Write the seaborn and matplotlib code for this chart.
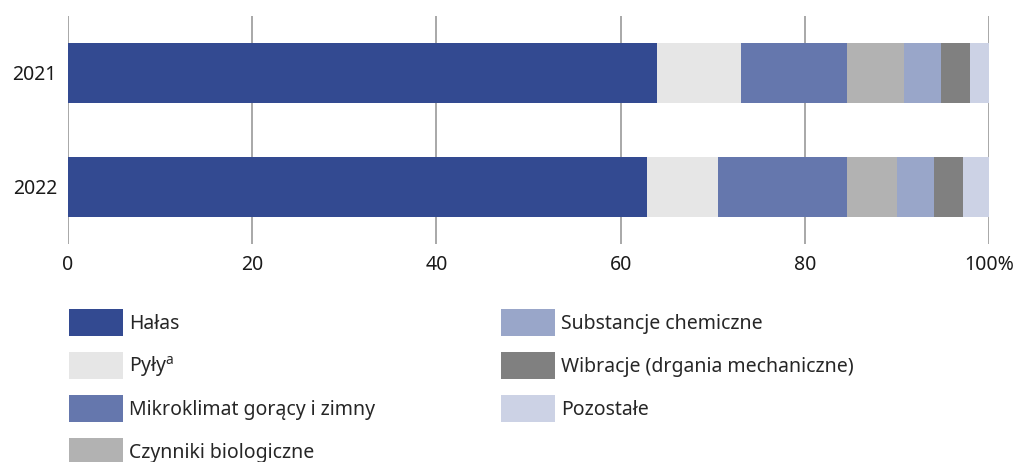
import numpy as np
import pandas as pd
import matplotlib.pyplot as plt
import seaborn as sns
from matplotlib.patches import Patch

# Data (percent shares per year)
years = ['2021', '2022']
factors = ['Hałas', 'Pyły$^{\\mathrm{a}}$', 'Mikroklimat gorący i zimny',
           'Czynniki biologiczne', 'Substancje chemiczne',
           'Wibracje (drgania mechaniczne)', 'Pozostałe']
share_2021 = [64.0, 9.1, 11.5, 6.2, 4.0, 3.1, 2.1]
share_2022 = [62.9, 7.7, 14.0, 5.4, 4.0, 3.2, 2.8]
colors = ['#334a91', '#e6e6e6', '#6577ad', '#b2b2b2', '#99a6c9', '#808080', '#ccd2e5']

sns.set_theme(style='white')
plt.rcParams['font.family'] = ['Noto Sans', 'DejaVu Sans']
plt.rcParams['mathtext.fontset'] = 'custom'
plt.rcParams['mathtext.rm'] = 'Noto Sans'

df = pd.DataFrame([share_2021, share_2022], index=years, columns=factors)
cum = df.cumsum(axis=1)

fig = plt.figure(figsize=(10.25, 4.62), dpi=100)
ax = fig.add_axes([68 / 1025, 1 - 244 / 462, 921 / 1025, 228 / 462])

# stacked bars: draw cumulative totals from the back to the front
for i in range(len(factors) - 1, -1, -1):
    sns.barplot(x=cum.iloc[:, i].values, y=years, color=colors[i], orient='h',
                width=0.53, linewidth=0, saturation=1, ax=ax, zorder=3)

ax.set_xlim(0, 100)
ax.set_ylim(1.5, -0.5)
ax.set_xticks([0, 20, 40, 60, 80, 100])
ax.set_xticklabels(['0', '20', '40', '60', '80', '100%'])
ax.grid(axis='x', color='#9a9a9a', linewidth=1.2, zorder=0)
ax.set_axisbelow(True)
for s in ax.spines.values():
    s.set_visible(False)
ax.tick_params(axis='both', length=0, labelsize=14, colors='#1a1a1a', pad=8)
ax.set_xlabel('')
ax.set_ylabel('')

handles = [Patch(facecolor=c, edgecolor='none') for c in colors]
leg_kw = dict(frameon=False, fontsize=14, handlelength=2.78, handleheight=1.76,
              handletextpad=0.32, labelspacing=0.82, borderaxespad=0, borderpad=0,
              loc='upper left')
leg1 = fig.legend(handles[:4], factors[:4], bbox_to_anchor=(69 / 1025, 1 - 309 / 462), **leg_kw)
leg2 = fig.legend(handles[4:], factors[4:], bbox_to_anchor=(501 / 1025, 1 - 309 / 462), **leg_kw)

fig.savefig('out.png', dpi=100)
